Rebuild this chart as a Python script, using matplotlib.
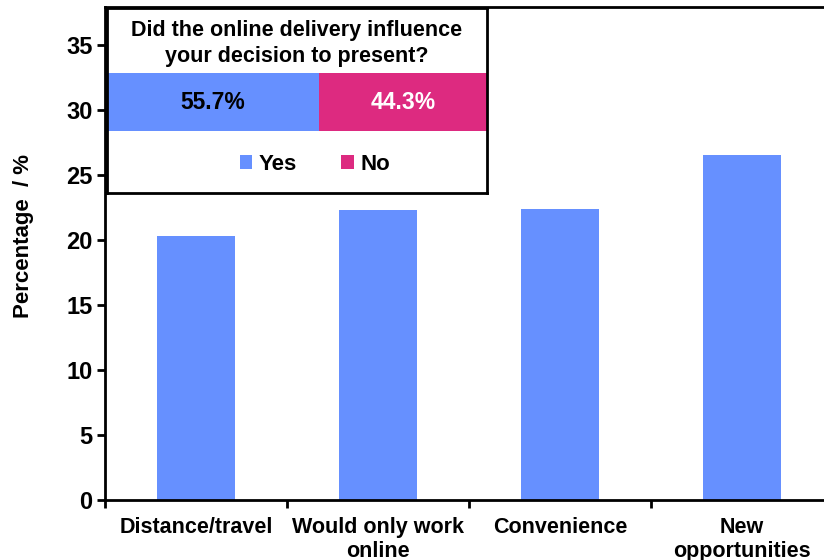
"""
Bar chart of reasons for presenting online, with an inset stacked bar
for the yes/no question about online delivery.
"""
import matplotlib
matplotlib.use("Agg")
import matplotlib.pyplot as plt

plt.rcParams['font.family'] = ['Liberation Sans', 'DejaVu Sans']

# main bars
reasons = ["Distance/travel", "Would only work\nonline", "Convenience",
           "New\nopportunities"]
percentages = [20.3, 22.3, 22.4, 26.5]

# inset question
question = "Did the online delivery influence\nyour decision to present?"
answers = ["Yes", "No"]
answer_shares = [55.7, 44.3]

BLUE = '#6690FF'
MAGENTA = '#DD2A80'

fig = plt.figure(figsize=(8.24, 5.6), dpi=100)

# main axes runs slightly past the right edge of the figure, like the source crop
ax = fig.add_axes([105 / 824, 60 / 560, 728 / 824, 493 / 560])
xpos = range(len(reasons))
ax.bar(xpos, percentages, width=0.43, color=BLUE, zorder=2)
ax.set_xlim(-0.5, 3.5)
ax.set_ylim(0, 37.9)
ax.set_yticks(range(0, 40, 5))
ax.set_xticks(list(xpos))
ax.set_xticklabels(reasons, fontsize=15.5, fontweight='bold',
                   linespacing=1.2)
ax.set_xticks([-0.5, 0.5, 1.5, 2.5, 3.5], minor=True)
ax.tick_params(axis='x', which='major', length=0, pad=12)
ax.tick_params(axis='x', which='minor', length=6, width=2, direction='out')
ax.tick_params(axis='y', length=6, width=2, direction='out', pad=3,
               labelsize=17)
for lbl in ax.get_yticklabels():
    lbl.set_fontweight('bold')
for side in ('left', 'bottom', 'top', 'right'):
    ax.spines[side].set_linewidth(2)
ax.set_ylabel("Percentage  / %", fontsize=16, fontweight='bold')
ax.yaxis.set_label_coords(-0.098, 0.535)

# inset: stacked horizontal bar
inset = fig.add_axes([107 / 824, 367 / 560, 380 / 824, 185 / 560])
left = 0
handles = []
for name, share, col in zip(answers, answer_shares, [BLUE, MAGENTA]):
    bars = inset.barh(0, share, left=left, height=1.0, color=col,
                      label=name)
    handles.append(bars)
    txt_col = 'black' if name == "Yes" else 'white'
    inset.text(left + share / 2, 0, f"{share}%", ha='center', va='center',
               fontsize=16.5, fontweight='bold', color=txt_col)
    left += share
inset.set_xlim(0, 100)
inset.set_ylim(-1.566, 1.618)
inset.set_xticks([])
inset.set_yticks([])
for side in inset.spines.values():
    side.set_linewidth(2)
inset.text(0.5, 0.81, question, transform=inset.transAxes, ha='center',
           va='center', fontsize=15.5, fontweight='bold', linespacing=1.3)
inset.legend(handles=handles, loc='center', bbox_to_anchor=(0.547, 0.155),
             ncol=2, frameon=False, handlelength=0.55, handleheight=0.55,
             handletextpad=0.3, columnspacing=2.0,
             prop={'size': 16, 'weight': 'bold'})

fig.savefig("out.png", dpi=100)
